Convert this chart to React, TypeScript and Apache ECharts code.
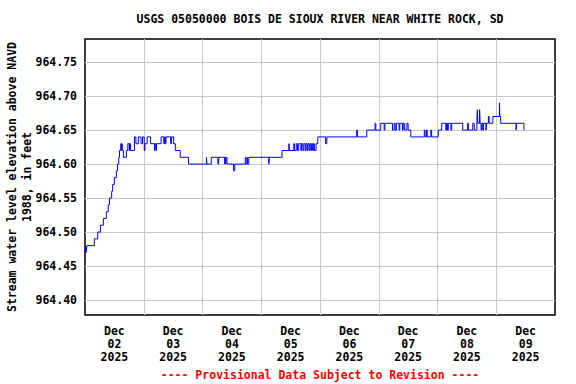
import React, { useEffect, useRef } from "react";
import * as echarts from "echarts";

// Hours since 2025-12-02 00:00 and water level (ft) at each change point
const hours: number[] = [
  0.0, 0.25, 0.5, 0.75, 3.8, 5.2, 6.3, 7.5, 8.7, 9.5, 10.0, 10.9, 11.3, 12.0, 12.8, 13.3, 13.8, 14.1, 14.6, 15.0,
  15.1, 15.3, 15.7, 16.9, 17.5, 18.1, 18.3, 18.6, 20.2, 20.8, 21.8, 22.9, 23.5, 24.2, 24.5, 25.4, 26.8, 28.4, 28.6, 28.9,
  29.2, 31.1, 32.2, 32.5, 32.8, 33.1, 35.0, 35.3, 36.2, 36.9, 38.9, 42.3, 49.6, 49.8, 51.6, 54.3, 54.6, 57.1, 57.3, 57.5,
  57.7, 58.0, 60.7, 61.2, 65.5, 65.8, 66.3, 66.5, 66.9, 75.1, 75.3, 80.5, 83.3, 83.5, 85.3, 85.6, 86.3, 86.8, 87.3, 88.2,
  88.5, 89.0, 89.4, 90.0, 90.3, 90.8, 91.1, 91.6, 91.9, 92.3, 92.6, 93.0, 93.3, 93.7, 94.4, 95.1, 98.3, 98.8, 111.0, 111.3,
  115.1, 118.5, 118.8, 120.8, 122.2, 122.5, 125.6, 126.3, 126.7, 127.2, 128.3, 128.6, 129.7, 130.0, 130.6, 131.5, 132.0, 133.1, 138.6, 138.9,
  139.5, 139.8, 141.3, 141.6, 144.3, 145.7, 147.4, 147.7, 148.1, 148.4, 149.5, 149.8, 154.3, 156.3, 156.6, 158.4, 159.0, 160.1, 160.3, 160.5,
  161.2, 161.4, 161.8, 162.1, 162.5, 162.8, 163.8, 164.0, 164.8, 165.1, 166.6, 169.3, 169.5, 169.8, 176.1, 176.3, 179.3, 179.5,
];
const levels: number[] = [
  964.47, 964.48, 964.47, 964.48, 964.49, 964.5, 964.51, 964.52, 964.53, 964.54, 964.55, 964.56, 964.57, 964.58, 964.59, 964.6, 964.61, 964.62, 964.63, 964.62,
  964.63, 964.62, 964.61, 964.62, 964.63, 964.62, 964.63, 964.62, 964.64, 964.63, 964.64, 964.63, 964.64, 964.62, 964.63, 964.64, 964.63, 964.62, 964.63, 964.62,
  964.63, 964.64, 964.63, 964.64, 964.63, 964.64, 964.63, 964.64, 964.63, 964.62, 964.61, 964.6, 964.61, 964.6, 964.61, 964.6, 964.61, 964.6, 964.61, 964.6,
  964.61, 964.6, 964.59, 964.6, 964.61, 964.6, 964.61, 964.6, 964.61, 964.6, 964.61, 964.62, 964.63, 964.62, 964.63, 964.62, 964.63, 964.62, 964.63, 964.62,
  964.63, 964.62, 964.63, 964.62, 964.63, 964.62, 964.63, 964.62, 964.63, 964.62, 964.63, 964.62, 964.63, 964.62, 964.63, 964.64, 964.63, 964.64, 964.65, 964.64,
  964.65, 964.66, 964.65, 964.66, 964.65, 964.66, 964.65, 964.66, 964.65, 964.66, 964.65, 964.66, 964.65, 964.66, 964.65, 964.66, 964.65, 964.64, 964.65, 964.64,
  964.65, 964.64, 964.65, 964.64, 964.65, 964.66, 964.65, 964.66, 964.65, 964.66, 964.65, 964.66, 964.65, 964.66, 964.65, 964.66, 964.65, 964.67, 964.68, 964.66,
  964.68, 964.66, 964.65, 964.66, 964.65, 964.66, 964.65, 964.66, 964.67, 964.66, 964.67, 964.69, 964.67, 964.66, 964.65, 964.66, 964.65, 964.65,
];

const dayLabels: string[] = ["Dec 02 2025", "Dec 03 2025", "Dec 04 2025", "Dec 05 2025", "Dec 06 2025", "Dec 07 2025", "Dec 08 2025", "Dec 09 2025"];

const titleText = "USGS 05050000 BOIS DE SIOUX RIVER NEAR WHITE ROCK, SD";
const footerText = "---- Provisional Data Subject to Revision ----";
const yName = "Stream water level elevation above NAVD\n1988, in feet";

const FONT = "'DejaVu Sans Mono', 'Liberation Mono', monospace";

export default function App() {
  const ref = useRef<HTMLDivElement>(null);
  useEffect(() => {
    if (!ref.current) return;
    const chart = echarts.init(ref.current, null, { renderer: "svg" });
    const baseText = { fontFamily: FONT, fontWeight: "bold" as const, fontSize: 11.5, color: "#000" };
    const gridLine = { show: true, showMinLine: false, showMaxLine: false, lineStyle: { color: "#c8c8c8", width: 1 } };
    chart.setOption({
      animation: false,
      backgroundColor: "#fff",
      title: [
        {
          text: titleText,
          left: 320,
          top: 13,
          padding: 0,
          textAlign: "center",
          textStyle: { ...baseText },
        },
        {
          text: footerText,
          left: 320,
          top: 369,
          padding: 0,
          textAlign: "center",
          textStyle: { ...baseText, color: "#ff0000" },
        },
      ],
      grid: {
        left: 85,
        right: 21,
        top: 39,
        bottom: 69,
        show: true,
        containLabel: false,
        outerBoundsMode: "none",
        backgroundColor: "#fff",
        borderColor: "#000",
        borderWidth: 1.5,
      },
      xAxis: [
        {
          type: "value",
          min: 0,
          max: 192,
          interval: 24,
          axisLine: { show: false },
          axisTick: { show: false },
          axisLabel: { show: false },
          splitLine: gridLine,
        },
        {
          type: "category",
          position: "bottom",
          data: dayLabels,
          boundaryGap: true,
          axisLine: { show: false },
          axisTick: { show: false },
          splitLine: { show: false },
          axisLabel: {
            ...baseText,
            margin: 9,
            lineHeight: 13,
            interval: 0,
            formatter: (v: string) => v.split(" ").join("\n"),
          },
        },
      ],
      yAxis: {
        type: "value",
        min: 964.378,
        max: 964.784,
        splitNumber: 8,
        minInterval: 0.05,
        maxInterval: 0.05,
        axisLine: { show: false },
        axisTick: { show: false },
        splitLine: gridLine,
        axisLabel: {
          ...baseText,
          margin: 8,
          showMinLabel: false,
          showMaxLabel: false,
          formatter: (v: number) => v.toFixed(2),
        },
        name: yName,
        nameLocation: "middle",
        nameRotate: 90,
        nameGap: 51,
        nameMoveOverlap: false,
        nameTextStyle: { ...baseText, lineHeight: 15 },
      },
      series: [
        {
          type: "line",
          xAxisIndex: 0,
          yAxisIndex: 0,
          step: "end",
          showSymbol: false,
          symbol: "none",
          lineStyle: { color: "#0000ff", width: 1 },
          data: hours.map((h, i) => [h, levels[i]]),
        },
      ],
    });
    return () => chart.dispose();
  }, []);
  return <div ref={ref} style={{ width: 576, height: 384, position: "absolute", left: 0, top: 0 }} />;
}
